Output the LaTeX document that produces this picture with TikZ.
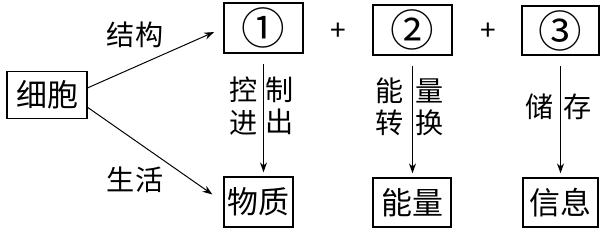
\documentclass[tikz,border=0pt]{standalone}
\usepackage{fontspec}
\setmainfont{Noto Sans CJK SC}
\usetikzlibrary{arrows.meta}

\begin{document}
\begin{tikzpicture}[x=0.025cm,y=-0.025cm,
  box/.style={draw,line width=1.1pt,inner sep=0pt,font=\fontsize{22}{26}\selectfont},
  num/.style={box,font=\fontsize{31}{34}\selectfont},
  lbl/.style={inner sep=0pt,align=center,font=\fontsize{20}{23}\selectfont},
  arr/.style={line width=0.7pt,-{Stealth[length=7pt,width=5pt]}}]
  \def\px{0.025cm}
  \useasboundingbox (0,0) rectangle (604,232);

  % boxes
  \node[box,minimum width={80*\px},minimum height={47*\px}] (cell) at (47,95) {细胞};
  \node[num,minimum width={79*\px},minimum height={50*\px}] (one) at (263.5,28) {①};
  \node[num,minimum width={79*\px},minimum height={50*\px}] (two) at (412.5,30) {②};
  \node[num,minimum width={77*\px},minimum height={49*\px}] (three) at (560.5,30.5) {③};
  \node[box,minimum width={69*\px},minimum height={50*\px}] (matter) at (258.5,202) {物质};
  \node[box,minimum width={78*\px},minimum height={49*\px}] (energy) at (412,202.5) {能量};
  \node[box,minimum width={75*\px},minimum height={49*\px}] (info) at (560.5,202.5) {信息};

  \node[lbl] (plusa) at (338,32) {+};
  \node[lbl] (plusb) at (488,32) {+};

  % arrows
  \draw[arr,shorten >=0.25cm] (cell.10) -- (one.west);
  \draw[arr,shorten >=0.33cm] (cell.-17) -- (matter.west);
  \draw[arr,shorten <=0.25cm,shorten >=0.1cm] (one.south) -- (one.south |- matter.north);
  \draw[arr,shorten <=0.25cm,shorten >=0.1cm] (two.south) -- (two.south |- energy.north);
  \draw[arr,shorten <=0.25cm,shorten >=0.1cm] (three.south) -- (three.south |- info.north);

  % labels
  \node[lbl] (struct) at (135,35) {结构};
  \node[lbl] (life) at (135,180) {生活};
  \node[lbl] (ctrla) at (244,106) {控\\进};
  \node[lbl] (ctrlb) at (280,106) {制\\出};
  \node[lbl] (enga) at (390,107) {能\\转};
  \node[lbl] (engb) at (430,107) {量\\换};
  \node[lbl] (storea) at (540,107) {储};
  \node[lbl] (storeb) at (578,107) {存};
\end{tikzpicture}
\end{document}
